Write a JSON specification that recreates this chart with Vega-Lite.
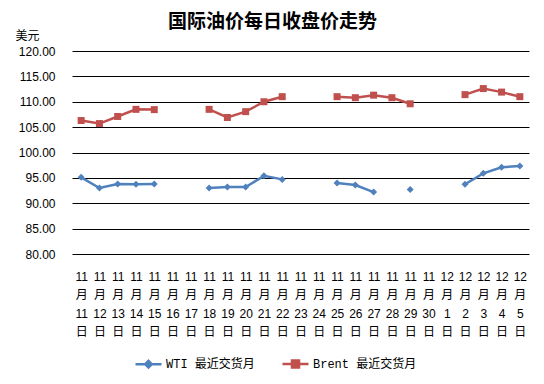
{
  "$schema": "https://vega.github.io/schema/vega-lite/v6.json",
  "autosize": "none",
  "width": 457,
  "height": 203,
  "padding": {"left": 72, "top": 51, "right": 15, "bottom": 130},
  "background": "white",
  "config": {"view": {"stroke": null}, "font": "Liberation Sans, Noto Sans CJK SC"},
  "title": {"text": "国际油价每日收盘价走势", "fontSize": 19, "fontWeight": "bold", "font": "Noto Sans CJK SC", "color": "#000000", "anchor": "middle", "frame": "group", "dx": -28, "offset": -3},
  "data": {"values": [
    {"date": "11月11日", "WTI 最近交货月": 95.1, "Brent 最近交货月": 106.3},
    {"date": "11月12日", "WTI 最近交货月": 93.0, "Brent 最近交货月": 105.7},
    {"date": "11月13日", "WTI 最近交货月": 93.8, "Brent 最近交货月": 107.1},
    {"date": "11月14日", "WTI 最近交货月": 93.75, "Brent 最近交货月": 108.5},
    {"date": "11月15日", "WTI 最近交货月": 93.8, "Brent 最近交货月": 108.45},
    {"date": "11月16日", "WTI 最近交货月": null, "Brent 最近交货月": null},
    {"date": "11月17日", "WTI 最近交货月": null, "Brent 最近交货月": null},
    {"date": "11月18日", "WTI 最近交货月": 93.0, "Brent 最近交货月": 108.5},
    {"date": "11月19日", "WTI 最近交货月": 93.2, "Brent 最近交货月": 106.9},
    {"date": "11月20日", "WTI 最近交货月": 93.2, "Brent 最近交货月": 108.05},
    {"date": "11月21日", "WTI 最近交货月": 95.4, "Brent 最近交货月": 110.0},
    {"date": "11月22日", "WTI 最近交货月": 94.7, "Brent 最近交货月": 111.0},
    {"date": "11月23日", "WTI 最近交货月": null, "Brent 最近交货月": null},
    {"date": "11月24日", "WTI 最近交货月": null, "Brent 最近交货月": null},
    {"date": "11月25日", "WTI 最近交货月": 94.0, "Brent 最近交货月": 111.0},
    {"date": "11月26日", "WTI 最近交货月": 93.6, "Brent 最近交货月": 110.8},
    {"date": "11月27日", "WTI 最近交货月": 92.2, "Brent 最近交货月": 111.3},
    {"date": "11月28日", "WTI 最近交货月": null, "Brent 最近交货月": 110.8},
    {"date": "11月29日", "WTI 最近交货月": 92.7, "Brent 最近交货月": 109.6},
    {"date": "11月30日", "WTI 最近交货月": null, "Brent 最近交货月": null},
    {"date": "12月1日", "WTI 最近交货月": null, "Brent 最近交货月": null},
    {"date": "12月2日", "WTI 最近交货月": 93.75, "Brent 最近交货月": 111.4},
    {"date": "12月3日", "WTI 最近交货月": 95.9, "Brent 最近交货月": 112.6},
    {"date": "12月4日", "WTI 最近交货月": 97.1, "Brent 最近交货月": 111.9},
    {"date": "12月5日", "WTI 最近交货月": 97.35, "Brent 最近交货月": 111.0}
  ]},
  "transform": [{"fold": ["WTI 最近交货月", "Brent 最近交货月"], "as": ["series", "price"]}],
  "encoding": {
    "x": {
      "field": "date", "type": "ordinal", "sort": null,
      "scale": {"domain": ["11月11日","11月12日","11月13日","11月14日","11月15日","11月16日","11月17日","11月18日","11月19日","11月20日","11月21日","11月22日","11月23日","11月24日","11月25日","11月26日","11月27日","11月28日","11月29日","11月30日","12月1日","12月2日","12月3日","12月4日","12月5日"]},
      "axis": {
        "title": null, "domain": false, "ticks": false, "grid": false,
        "labelAngle": 0, "labelFontSize": 12, "labelColor": "#000000",
        "labelFont": "Liberation Sans, Noto Sans CJK SC",
        "labelPadding": 17, "labelLineHeight": 18.5, "labelOverlap": false, "labelLimit": 0,
        "labelBaseline": "top",
        "labelExpr": "[split(datum.label, '月')[0], '月', replace(split(datum.label, '月')[1], '日', ''), '日']"
      }
    },
    "y": {
      "field": "price", "type": "quantitative",
      "scale": {"domain": [80, 120], "nice": false, "zero": false},
      "axis": {
        "values": [80, 85, 90, 95, 100, 105, 110, 115, 120], "format": ".2f",
        "domain": false, "ticks": false, "grid": true, "gridColor": "#000000", "gridOpacity": 1, "gridWidth": 1,
        "labelFontSize": 12, "labelColor": "#000000", "labelPadding": 17, "labelFont": "Liberation Sans",
        "title": "美元", "titleAngle": 0, "titleFontSize": 12, "titleFontWeight": "normal", "titleColor": "#000000",
        "titleAlign": "left", "titleBaseline": "middle", "titleX": -57, "titleY": -16, "titleFont": "Noto Sans CJK SC"
      }
    },
    "color": {
      "field": "series", "type": "nominal",
      "scale": {"domain": ["WTI 最近交货月", "Brent 最近交货月"], "range": ["#4F81BD", "#C0504D"]},
      "legend": {
        "title": null, "orient": "none", "direction": "horizontal", "legendX": 62, "legendY": 298,
        "labelFont": "Liberation Mono, Noto Sans CJK SC", "labelFontSize": 12, "labelColor": "#000000",
        "symbolSize": 676, "symbolStrokeWidth": 2.5, "columnPadding": 22, "labelOffset": 3,
        "symbolType": "M-1,0H1M0,-0.25L0.25,0L0,0.25L-0.25,0Z",
        "encode": {"symbols": {"update": {
          "shape": {"signal": "datum.value === 'WTI 最近交货月' ? 'M-1,0H1M0,-0.25L0.25,0L0,0.25L-0.25,0Z' : 'M-1,0H1M-0.27,-0.27H0.27V0.27H-0.27Z'"},
          "fill": {"signal": "datum.value === 'WTI 最近交货月' ? '#4F81BD' : '#C0504D'"},
          "stroke": {"signal": "datum.value === 'WTI 最近交货月' ? '#4F81BD' : '#C0504D'"},
          "opacity": {"value": 1}, "fillOpacity": {"value": 1}, "strokeOpacity": {"value": 1}
        }}}
      }
    }
  },
  "layer": [
    {"mark": {"type": "line", "strokeWidth": 2.5}},
    {"transform": [{"filter": "datum.series === 'WTI 最近交货月'"}],
     "mark": {"type": "point", "filled": true, "opacity": 1, "size": 49, "shape": "diamond"}},
    {"transform": [{"filter": "datum.series === 'Brent 最近交货月'"}],
     "mark": {"type": "point", "filled": true, "opacity": 1, "size": 49, "shape": "square"}}
  ]
}
